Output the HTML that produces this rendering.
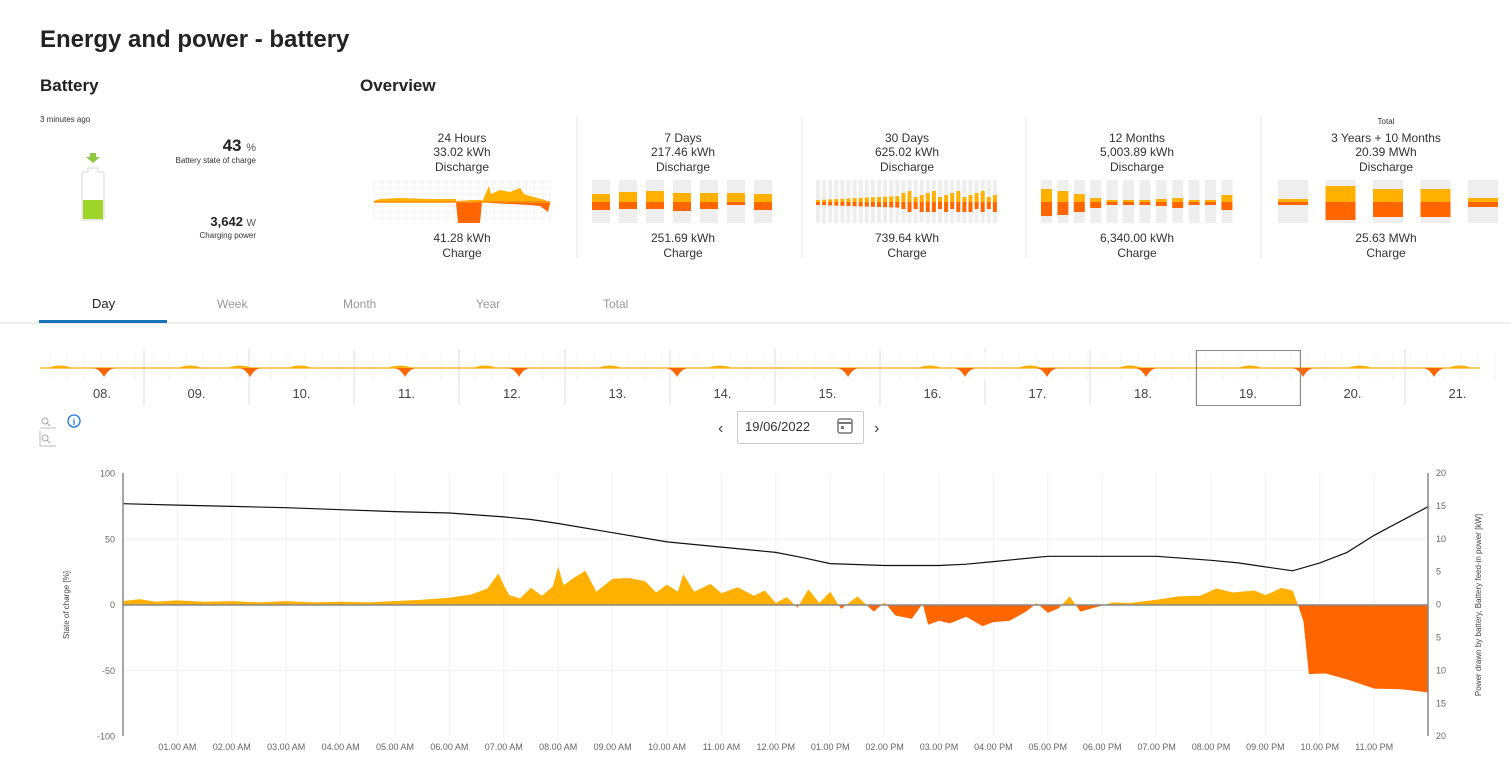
<!DOCTYPE html>
<html><head><meta charset="utf-8"><style>
body{margin:0;width:1511px;height:774px;background:#fff;font-family:"Liberation Sans",sans-serif;color:#222;position:relative;overflow:hidden}
.a{position:absolute;white-space:nowrap}
</style></head><body>
<div class="a" style="left:40px;top:26px;font-size:24px;font-weight:bold;color:#222">Energy and power - battery</div>
<div class="a" style="left:40px;top:76px;font-size:17px;font-weight:bold">Battery</div>
<div class="a" style="left:360px;top:76px;font-size:17px;font-weight:bold">Overview</div>
<div class="a" style="left:40px;top:115px;font-size:8px;color:#333">3 minutes ago</div>
<div class="a" style="right:1255px;top:136px;font-size:17px;font-weight:bold;text-align:right">43 <span style="font-size:11px;font-weight:normal;color:#555">%</span></div>
<div class="a" style="right:1255px;top:156px;font-size:8px;color:#333">Battery state of charge</div>
<div class="a" style="right:1255px;top:214px;font-size:13px;font-weight:bold">3,642 <span style="font-size:10px;font-weight:normal;color:#555">W</span></div>
<div class="a" style="right:1255px;top:231px;font-size:8px;color:#333">Charging power</div>
<svg class="a" style="left:75px;top:150px" width="40" height="75">
<path d="M15 3h6v4h4l-7 6-7-6h4z" fill="#8dc63f"/>
<path d="M13 18v4h-4a2 2 0 0 0-2 2v44a2 2 0 0 0 2 2h18a2 2 0 0 0 2-2V24a2 2 0 0 0-2-2h-4v-4z" fill="#fff" stroke="#ddd" stroke-width="1.2"/>
<rect x="8" y="50" width="20" height="19" fill="#9fd52b"/>
</svg>
<svg class="a" style="left:0;top:0" width="1511" height="774" id="s"></svg>
<div class="a" style="left:92px;top:296px;font-size:13px;color:#222">Day</div>
<div class="a" style="left:217px;top:297px;font-size:12px;color:#999">Week</div>
<div class="a" style="left:343px;top:297px;font-size:12px;color:#999">Month</div>
<div class="a" style="left:476px;top:297px;font-size:12px;color:#999">Year</div>
<div class="a" style="left:603px;top:297px;font-size:12px;color:#999">Total</div>
<div class="a" style="left:737px;top:411px;width:125px;height:31px;border:1px solid #ccc;border-radius:2px"></div>
<div class="a" style="left:745px;top:419px;font-size:13px;color:#333">19/06/2022</div>
<div class="a" style="left:718px;top:420px;font-size:16px;color:#444">‹</div>
<div class="a" style="left:874px;top:420px;font-size:16px;color:#444">›</div>
<script>
const S=document.getElementById('s');let h='';
function T(x,y,t,sz,col,anc,extra){h+=`<text x="${x}" y="${y}" font-size="${sz}" fill="${col}" text-anchor="${anc||'start'}" ${extra||''}>${t}</text>`}
const cols=[[462,'24 Hours','33.02 kWh','41.28 kWh'],[683,'7 Days','217.46 kWh','251.69 kWh'],[907,'30 Days','625.02 kWh','739.64 kWh'],[1137,'12 Months','5,003.89 kWh','6,340.00 kWh'],[1386,'3 Years + 10 Months','20.39 MWh','25.63 MWh']];
cols.forEach(c=>{T(c[0],142,c[1],12,'#333','middle');T(c[0],156,c[2],12,'#333','middle');T(c[0],171,'Discharge',12,'#333','middle');T(c[0],242,c[3],12,'#333','middle');T(c[0],257,'Charge',12,'#333','middle');});
T(1386,124,'Total',8,'#333','middle');
[577,802,1026,1261].forEach(x=>h+=`<line x1="${x}" y1="117" x2="${x}" y2="258" stroke="#e4e4e4"/>`);
for(let x=374;x<=550;x+=8)h+=`<line x1="${x}" y1="180" x2="${x}" y2="222" stroke="#f2f2f2"/>`;
for(let y=182;y<=222;y+=6)h+=`<line x1="374" y1="${y}" x2="550" y2="${y}" stroke="#f2f2f2"/>`;
h+=`<path d="M374 201 L380 199 L400 198 L430 199 L456 199 L456 202 L374 202Z" fill="#ffb000"/>`;
h+=`<path d="M456 200 L482 200 L482 202 L489 186 L491 194 L500 190 L510 192 L520 188 L524 194 L530 196 L545 200 L550 203 L486 202Z" fill="#ffb000"/>`;
h+=`<path d="M456 202 L458 223 L480 223 L482 202Z M486 202 L550 203 L548 212 L540 206 L530 205 L490 203Z" fill="#ff6600"/>`;
h+=`<line x1="374" y1="202" x2="550" y2="202" stroke="#ff8a00" stroke-width="1.5"/>`;
function bars(x0,w,gap,n,arr){for(let i=0;i<n;i++){const x=x0+i*(w+gap);const a=arr[i];h+=`<rect x="${x}" y="180" width="${w}" height="43" fill="#eee"/><rect x="${x}" y="${202-a[0]}" width="${w}" height="${a[0]}" fill="#ffb000"/><rect x="${x}" y="202" width="${w}" height="${a[1]}" fill="#ff6600"/>`}}
bars(592,18,9,7,[[8,8],[10,7],[11,7],[9,9],[9,7],[9,3],[8,8]]);
let d30=[];for(let i=0;i<30;i++){let a=i<14?2+i*0.3:5+(i%4)*2;let b=i<14?3+i*0.2:(i%3==0?10:7+(i%2)*3);d30.push([a,b])}
bars(816,4,2.1,30,d30);
bars(1041,11,5.4,12,[[13,14],[11,13],[8,10],[4,6],[2,3],[2,3],[2,3],[3,4],[4,6],[2,3],[2,3],[7,8]]);
bars(1278,30,17.5,5,[[3,3],[16,18],[13,15],[13,15],[4,5]]);
h+=`<line x1="0" y1="323" x2="1511" y2="323" stroke="#ddd"/><rect x="39" y="320" width="128" height="3" fill="#1a73b8"/>`;
const dv=[144,249,354,459,565,670,775,880,985,1090,1196,1300,1405];
dv.forEach(x=>h+=`<line x1="${x}" y1="349" x2="${x}" y2="405" stroke="#ddd"/>`);
for(let x=50;x<1505;x+=17)h+=`<line x1="${x}" y1="352" x2="${x}" y2="380" stroke="#f6f6f6"/>`;
h+=`<line x1="40" y1="368" x2="1480" y2="368" stroke="#ffb000" stroke-width="1.3"/>`;
const labs=['08.','09.','10.','11.','12.','13.','14.','15.','16.','17.','18.','19.','20.','21.'];
labs.forEach((l,i)=>{const cx=i==0?102:(dv[i-1]+(dv[i]||1510))/2;T(cx,398,l,13,'#444','middle');});
[104,250,405,519,677,965,1047,1146,1303,1434,848].forEach(x=>h+=`<path d="M${x-12} 368 Q${x-5} 368 ${x} 377 Q${x+5} 368 ${x+12} 368Z" fill="#ff6600"/>`);
[60,190,240,300,400,485,610,720,930,1030,1130,1250,1360,1460].forEach(x=>h+=`<path d="M${x-12} 368 Q${x} 363 ${x+12} 368Z" fill="#ffb000"/>`);
h+=`<rect x="1196.5" y="350.5" width="104" height="55" fill="none" stroke="#888"/>`;
h+=`<circle cx="45" cy="421" r="3" fill="none" stroke="#aaa"/><line x1="47" y1="423" x2="50" y2="426" stroke="#aaa"/><line x1="40" y1="428" x2="56" y2="428" stroke="#bbb"/>`;
h+=`<circle cx="45" cy="438" r="3" fill="none" stroke="#aaa"/><line x1="47" y1="440" x2="50" y2="443" stroke="#aaa"/><line x1="40" y1="431" x2="40" y2="446" stroke="#bbb"/><line x1="40" y1="446" x2="56" y2="446" stroke="#bbb"/>`;
h+=`<circle cx="74" cy="421" r="6" fill="none" stroke="#1a73e8" stroke-width="1.3"/><text x="74" y="425" font-size="9" fill="#1a73e8" text-anchor="middle" font-weight="bold">i</text>`;
h+=`<rect x="838" y="419" width="14" height="14" rx="2" fill="none" stroke="#777" stroke-width="1.5"/><line x1="838" y1="423" x2="852" y2="423" stroke="#777" stroke-width="2"/><rect x="841" y="426" width="3" height="3" fill="#777"/>`;
const X=hr=>123+54.4*hr, Y0=605, YK=v=>605-6.58*v, YS=v=>605-1.315*v;
for(let i=1;i<=23;i++){h+=`<line x1="${X(i)}" y1="473" x2="${X(i)}" y2="736" stroke="#f0f0f0"/>`;const hh=i%12==0?12:i%12;T(X(i),750,(hh<10?'0':'')+hh+'.00 '+(i<12?'AM':'PM'),9,'#666','middle');}
[50,-50].forEach(v=>h+=`<line x1="123" y1="${YS(v)}" x2="1428" y2="${YS(v)}" stroke="#f0f0f0"/>`);
const pw=[[0,.6],[.3,.9],[.6,.5],[1,.7],[1.5,.5],[2,.6],[2.5,.4],[3,.6],[3.5,.4],[4,.5],[4.5,.4],[5,.6],[5.5,.8],[6,1.1],[6.4,1.6],[6.7,2.5],[6.9,4.8],[7,3],[7.1,1.5],[7.3,1],[7.5,2.6],[7.7,1.4],[7.9,2.8],[8,5.8],[8.1,3],[8.3,4.2],[8.5,5.2],[8.7,2],[9,4],[9.3,4.1],[9.6,3.6],[9.8,1.9],[10,3.1],[10.2,2],[10.3,4.7],[10.5,2],[10.8,3.2],[11,1.8],[11.3,2.7],[11.6,1.4],[11.8,2.2],[12,.3],[12.2,1.2],[12.4,-.4],[12.6,2.4],[12.8,.3],[13,2],[13.2,-.6],[13.5,1.3],[13.8,-1],[14,.4],[14.2,-1.6],[14.5,-2.1],[14.7,.2],[14.8,-3],[15,-2.4],[15.2,-2.8],[15.5,-1.8],[15.8,-3.2],[16,-2.6],[16.3,-2.4],[16.6,-1],[16.8,.3],[17,-1.2],[17.2,-.5],[17.4,1.3],[17.6,-1],[17.9,-.3],[18.2,.4],[18.5,.3],[19,.8],[19.4,1.3],[19.8,1.4],[20.1,2.5],[20.4,1.9],[20.8,2.2],[21,1.5],[21.3,2.6],[21.5,2.2],[21.6,0],[21.7,-2.5],[21.8,-10.5],[22.1,-10.4],[22.5,-11.3],[23,-12.7],[23.5,-12.8],[24,-13.3]];
let p=`M${X(0)} ${Y0}`;pw.forEach(q=>p+=` L${X(q[0]).toFixed(1)} ${YK(q[1]).toFixed(1)}`);p+=` L${X(24)} ${Y0}Z`;
h+=`<defs><clipPath id="up"><rect x="0" y="0" width="1511" height="605"/></clipPath><clipPath id="dn"><rect x="0" y="605" width="1511" height="200"/></clipPath></defs>`;
h+=`<path d="${p}" fill="#ffb000" clip-path="url(#up)"/><path d="${p}" fill="#ff6600" clip-path="url(#dn)"/>`;
const soc=[[0,77],[1,76],[2,75],[3,74],[4,72.5],[5,71],[6,70],[7,67],[7.5,65],[8,62],[9,55],[10,48],[11,44],[12,40],[12.5,36],[13,31.5],[14,30],[15,30],[15.5,31],[16,33],[17,37],[18,37],[19,37],[19.5,35.5],[20,34],[20.5,32],[21,29],[21.5,26],[22,32],[22.5,40],[23,53],[23.5,64],[24,75]];
h+=`<polyline points="${soc.map(q=>X(q[0]).toFixed(1)+','+YS(q[1]).toFixed(1)).join(' ')}" fill="none" stroke="#111" stroke-width="1.2"/>`;
h+=`<line x1="123" y1="605" x2="1428" y2="605" stroke="#888" stroke-width="1.5"/>`;
h+=`<line x1="123" y1="473" x2="123" y2="736" stroke="#888" stroke-width="1.5"/><line x1="1428" y1="473" x2="1428" y2="736" stroke="#888" stroke-width="1.5"/>`;
[[100,'100'],[50,'50'],[0,'0'],[-50,'-50'],[-100,'-100']].forEach(q=>T(115,YS(q[0])+3,q[1],9,'#666','end'));
[20,15,10,5,0,5,10,15,20].forEach((v,i)=>T(1436,473+i*32.9+3,v,9,'#666','start'));
T(0,0,'State of charge [%]',8,'#444','middle','transform="translate(69,605) rotate(-90)"');
T(0,0,'Power drawn by battery, Battery feed-in power [kW]',8,'#444','middle','transform="translate(1481,605) rotate(-90)"');
S.innerHTML=h;
</script>
</body></html>
